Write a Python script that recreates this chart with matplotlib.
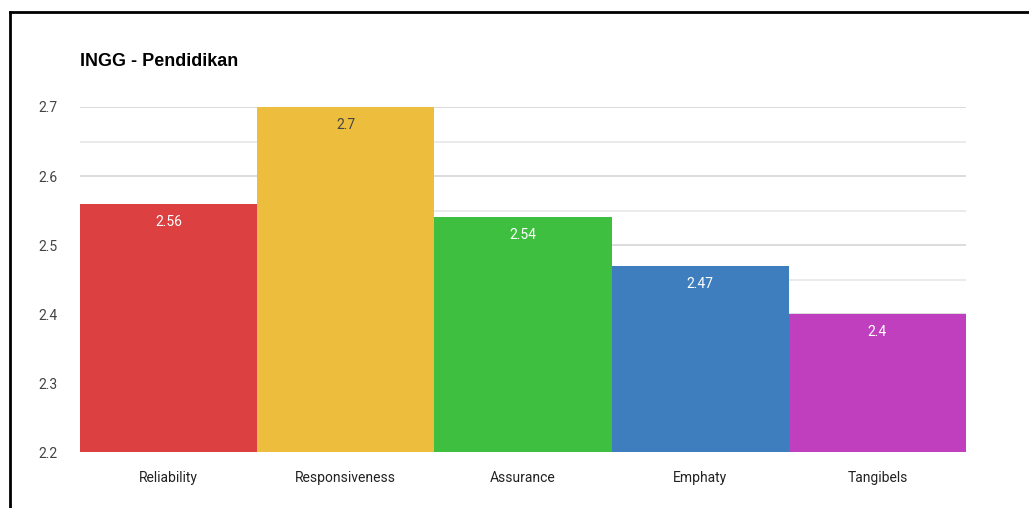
import numpy as np
import matplotlib
matplotlib.use("Agg")
import matplotlib.pyplot as plt
from matplotlib.lines import Line2D

categories = ["Reliability", "Responsiveness", "Assurance", "Emphaty", "Tangibels"]
values = [2.56, 2.7, 2.54, 2.47, 2.4]
value_labels = ["2.56", "2.7", "2.54", "2.47", "2.4"]
colors = ["#DC4040", "#EDBE3E", "#3FBF3F", "#3E7EBE", "#BF3FBF"]
label_colors = ["white", "#444444", "white", "white", "white"]
y_ticks = [2.2, 2.3, 2.4, 2.5, 2.6, 2.7]
y_minor = [2.25, 2.35, 2.45, 2.55, 2.65]
base = 2.2

plt.rcParams['font.family'] = ['Roboto', 'DejaVu Sans']

fig = plt.figure(figsize=(10.29, 5.08), dpi=100)
ax = fig.add_axes([80/1029, 56/508, (966-80)/1029, (452-107)/508])

x = np.arange(len(categories))
ax.bar(x, np.array(values) - base, bottom=base, width=1.0, color=colors, zorder=3)

for xi, v, lab, c in zip(x, values, value_labels, label_colors):
    ax.annotate(lab, (xi, v), xytext=(0, -13), textcoords="offset points",
                ha="center", va="center", color=c, fontsize=10)

ax.set_xlim(-0.5, len(categories) - 0.5)
ax.set_ylim(2.2, 2.7)
ax.set_yticks(y_ticks)
ax.set_yticklabels([str(t) for t in y_ticks])
ax.set_yticks(y_minor, minor=True)
ax.set_xticks(x)
ax.set_xticklabels(categories)
ax.tick_params(axis="y", which="both", length=0, pad=16, labelsize=10, labelcolor="#444444")
ax.tick_params(axis="x", length=0, pad=14, labelsize=10, labelcolor="#222222")
ax.grid(axis="y", which="major", color="#d6d6d6", linewidth=1.2, zorder=0)
ax.grid(axis="y", which="minor", color="#e8e8e8", linewidth=1.2, zorder=0)
for s in ax.spines.values():
    s.set_visible(False)

fig.text(80/1029, 1 - 62/508, "INGG - Pendidikan", fontsize=13, fontweight="bold",
         family=["Liberation Sans", "DejaVu Sans"], ha="left", va="center", color="#000000")

# border on top and left of the screenshot
fig.add_artist(Line2D([10/1029, 1], [1 - 12/508, 1 - 12/508], color="black", linewidth=2,
                      transform=fig.transFigure))
fig.add_artist(Line2D([10/1029, 10/1029], [0, 1 - 12/508], color="black", linewidth=2,
                      transform=fig.transFigure))

fig.savefig("out.png", dpi=100)
